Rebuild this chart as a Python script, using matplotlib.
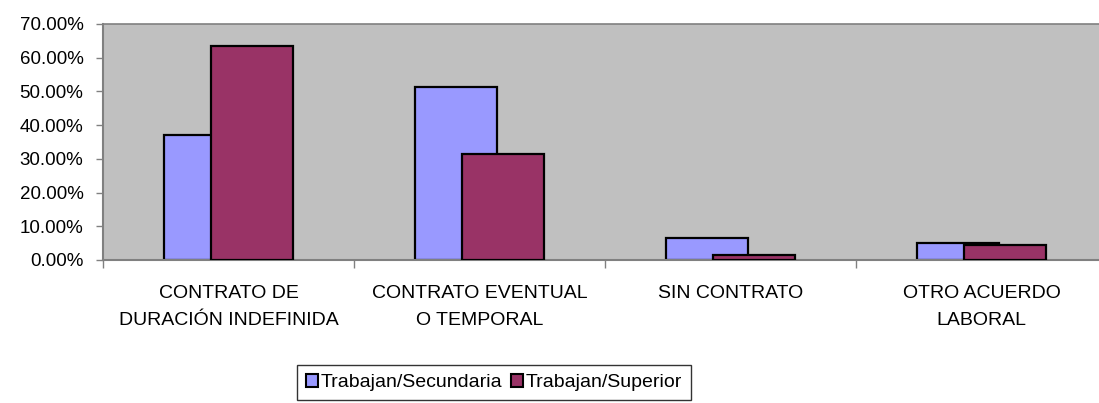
import matplotlib
matplotlib.use("Agg")
import matplotlib.pyplot as plt
from matplotlib.ticker import FuncFormatter, FixedLocator
import numpy as np

plt.rcParams['font.family'] = ['Liberation Sans', 'DejaVu Sans']

categories = ["CONTRATO DE\nDURACIÓN INDEFINIDA", "CONTRATO EVENTUAL\nO TEMPORAL",
              "SIN CONTRATO", "OTRO ACUERDO\nLABORAL"]
secundaria = [37.1, 51.3, 6.4, 4.9]
superior = [63.6, 31.4, 1.5, 4.4]
series_names = ["Trabajan/Secundaria", "Trabajan/Superior"]
yticks = [0, 10, 20, 30, 40, 50, 60, 70]

W, H = 1099, 403
fig = plt.figure(figsize=(W/100, H/100), dpi=100)
ax = fig.add_axes([103/W, 1-260/H, (1107-103)/W, (260-24)/H])
ax.set_facecolor('#C0C0C0')

x = np.arange(len(categories))
bw = 0.327
off = 0.094
ax.bar(x - off, secundaria, width=bw, color='#9999FF', edgecolor='black', linewidth=1.6,
       label=series_names[0], zorder=2)
ax.bar(x + off, superior, width=bw, color='#993366', edgecolor='black', linewidth=1.6,
       label=series_names[1], zorder=3)

ax.set_xlim(-0.5, len(categories) - 0.5)
ax.set_ylim(0, 70)
ax.set_yticks(yticks)
ax.yaxis.set_major_formatter(FuncFormatter(lambda v, p: f"{v:.2f}%"))
ax.tick_params(axis='y', labelsize=13.5, length=5, width=1, color='#808080', pad=9, direction='out')

ax.xaxis.set_major_locator(FixedLocator(np.arange(-0.5, len(categories), 1.0)))
ax.xaxis.set_major_formatter(FuncFormatter(lambda v, p: ""))
ax.xaxis.set_minor_locator(FixedLocator(x))
ax.set_xticklabels(categories, minor=True)
ax.tick_params(axis='x', which='major', length=6, width=1, color='#808080', direction='out')
ax.tick_params(axis='x', which='minor', length=0, labelsize=14, pad=18)
for lbl in ax.get_xticklabels(minor=True):
    lbl.set_linespacing(1.75)
    lbl.set_va('top')
    lbl.set_ha('center')

for s in ['left', 'bottom']:
    ax.spines[s].set_color('#808080')
    ax.spines[s].set_linewidth(1.5)
ax.spines['top'].set_color('#808080')
ax.spines['top'].set_linewidth(1.2)
ax.spines['right'].set_visible(False)

leg = fig.legend(loc='upper center', bbox_to_anchor=(494/W, 1-365/H),
                 ncol=2, fontsize=14, frameon=True, fancybox=False, edgecolor='black',
                 handlelength=0.65, handleheight=0.65, handletextpad=0.15, columnspacing=0.4,
                 borderaxespad=0, borderpad=0.45)
leg.get_frame().set_linewidth(1.0)
for h in leg.legend_handles:
    h.set_edgecolor('black')
    h.set_linewidth(1.5)

fig.savefig("out.png", dpi=100)
